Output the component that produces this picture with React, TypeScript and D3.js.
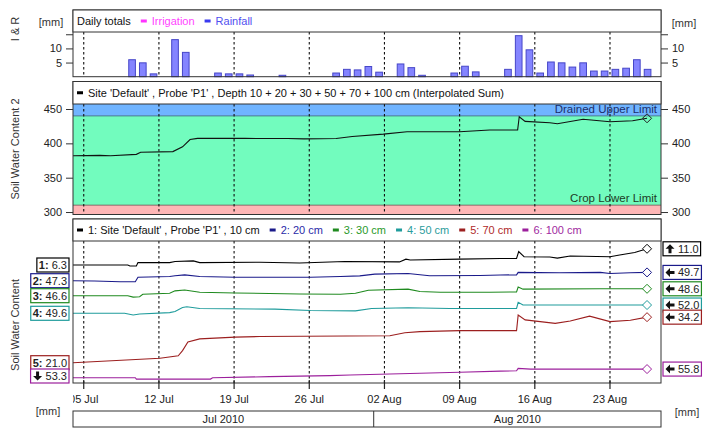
import { useEffect, useRef } from 'react';
import * as d3 from 'd3';

type Pt = [number, number];

// time axis: days counted from 04 Jul 2010 00:00 UTC
const START = Date.UTC(2010, 6, 4);
const END = Date.UTC(2010, 7, 27, 18);
const DAY_MS = 86400000;

const RAIN_DATES = [
  '2010-07-09', '2010-07-10', '2010-07-11', '2010-07-13', '2010-07-14', '2010-07-17', '2010-07-18',
  '2010-07-19', '2010-07-20', '2010-07-23', '2010-07-28', '2010-07-29', '2010-07-30', '2010-07-31',
  '2010-08-01', '2010-08-03', '2010-08-04', '2010-08-05', '2010-08-08', '2010-08-09', '2010-08-10',
  '2010-08-13', '2010-08-14', '2010-08-15', '2010-08-16', '2010-08-17', '2010-08-18', '2010-08-19',
  '2010-08-20', '2010-08-21', '2010-08-22', '2010-08-23', '2010-08-24', '2010-08-25', '2010-08-26',
];
const RAIN_MM = [
  6.0, 4.9, 1.0, 13.1, 8.6, 1.3, 1.0,
  1.0, 0.6, 0.5, 1.3, 2.6, 2.4, 3.6,
  1.6, 4.5, 3.2, 0.5, 1.3, 3.7, 1.7,
  2.6, 14.5, 9.5, 1.3, 5.2, 4.9, 3.4,
  4.9, 2.0, 2.0, 2.6, 3.0, 6.0, 2.6,
];

const IR_DOMAIN = [0, 15.8];
const IR_TICKS = [5, 10, 15];
const IR_TICK_LABELS = ['5', '10', ''];

const SWC2_DOMAIN = [296.4, 457.3];
const SWC2_TICKS = [300, 350, 400, 450];
const DRAINED_UPPER = 440;
const CROP_LOWER = 310;

const SWC_SUM: Pt[] = [
  [0, 382], [2.5, 382.5], [3.5, 382], [5.9, 384], [6.3, 387], [9.3, 388], [10.2, 395], [10.9, 405.5],
  [11.6, 407.3], [16, 407.2], [20, 407], [21.5, 406.5], [24.5, 407], [26, 410], [28.9, 413.5], [31.1, 417],
  [36, 417], [38.8, 419.4], [41.4, 419.5], [41.55, 438.8], [42.1, 432], [44.4, 430], [45.1, 428.6],
  [47.5, 435], [50, 431.5], [52.1, 433], [53.45, 436.5],
];

const SWC_10: Pt[] = [
  [0, 6.3], [5.1, 6.3], [5.3, 6.0], [5.9, 6.0], [6.05, 7.0], [9.0, 7.0], [9.5, 7.3], [11.2, 7.5],
  [11.8, 7.0], [17.4, 7.1], [21.1, 6.9], [25.3, 7.3], [30.4, 7.2], [31.0, 8.0], [31.4, 7.75], [36, 8.0],
  [39.8, 8.2], [41.3, 8.2], [41.5, 10.2], [42.0, 8.7], [44.4, 8.6], [45.1, 8.3], [46.3, 8.9], [50.0, 8.7],
  [50.9, 9.2], [52.3, 9.9], [53.45, 11.0],
];
const SWC_20: Pt[] = [
  [0, 47.3], [2.0, 47.2], [4.4, 47.0], [5.8, 47.0], [6.05, 48.3], [9.0, 48.5], [9.5, 48.75], [10.4, 49.0],
  [11.8, 48.5], [15.1, 48.3], [22.1, 48.3], [24.9, 48.5], [26.7, 48.7], [28.1, 49.2], [31.2, 49.4],
  [33.2, 48.75], [37.9, 48.8], [39.8, 48.95], [41.3, 49.0], [41.45, 49.7], [45.3, 49.6], [49.1, 49.7],
  [50.0, 49.4], [51.9, 49.6], [53.45, 49.7],
];
const SWC_30: Pt[] = [
  [0, 46.6], [5.1, 46.6], [5.6, 46.2], [6.2, 46.3], [6.5, 47.0], [9.0, 47.3], [9.5, 48.0], [10.4, 48.25],
  [11.8, 47.6], [15.1, 47.4], [21.1, 47.1], [24.9, 47.0], [26.3, 47.3], [27.5, 48.2], [31.2, 48.5],
  [32.3, 47.8], [34.2, 47.6], [38.8, 47.6], [41.3, 47.7], [41.45, 49.1], [41.9, 48.5], [49.1, 48.6],
  [53.45, 48.6],
];
const SWC_50: Pt[] = [
  [0, 49.6], [4.8, 49.6], [5.6, 49.1], [6.2, 49.4], [9.0, 49.8], [9.5, 50.1], [10.2, 51.3], [10.6, 51.5],
  [11.8, 51.0], [18.8, 50.8], [22.1, 50.4], [26.3, 50.3], [27.8, 51.0], [31.2, 51.2], [35.1, 51.0],
  [41.3, 51.0], [41.45, 52.8], [41.9, 52.0], [53.45, 52.0],
];
const SWC_70: Pt[] = [
  [0, 21.0], [8.1, 22.3], [9.8, 23.0], [10.2, 24.5], [10.7, 27.0], [11.8, 27.9], [15.1, 28.4], [17.4, 28.6],
  [29.5, 28.8], [30.9, 29.7], [32.3, 30.0], [36, 30.3], [41.3, 30.3], [41.45, 34.8], [42.1, 33.4],
  [44.9, 32.4], [46.3, 33.1], [48.1, 34.5], [50.0, 32.9], [51.9, 33.3], [53.45, 34.2],
];
const SWC_100: Pt[] = [
  [0, 53.3], [5.8, 53.3], [5.9, 52.9], [12.8, 52.9], [13.0, 53.3], [18.3, 53.6], [23.9, 53.9], [25.8, 54.1],
  [32.3, 54.6], [36, 54.9], [39.8, 55.2], [41.3, 55.3], [41.45, 56.0], [42.6, 55.8], [53.45, 55.8],
];

const DEPTH_SERIES = [SWC_10, SWC_20, SWC_30, SWC_50, SWC_70, SWC_100];
const DEPTH_LABELS = ["1: Site 'Default' , Probe 'P1' , 10 cm", '2: 20 cm', '3: 30 cm', '4: 50 cm', '5: 70 cm', '6: 100 cm'];
const LEFT_TAGS = ['1:', '2:', '3:', '4:', '5:', 'down'];
const RIGHT_TAGS = ['up', 'left', 'left', 'left', 'left', 'left'];

const DEPTH_COLORS = ['#000000', '#1a1a8a', '#1f8a1f', '#1f9c9c', '#9c1f1f', '#9c1f9c'];
const DEPTH_TEXT = ['#111111', '#2a2aa8', '#2a9a2a', '#2a9c9c', '#b02a2a', '#a02aa0'];

// layout
const W = 712;
const H = 428;
const L = 73;
const R = 661;
const P1 = { top: 10, legend: 32, bottom: 76.7 };
const P2 = { top: 81.5, legend: 104, bottom: 214.5 };
const P3 = { top: 219, legend: 241, bottom: 383 };
const PX_PER_UNIT = 3.45;
const LANE_START_Y = [265, 280.7, 295.7, 313.3, 362.7, 377.7];
const FONT = '"Liberation Sans", Arial, sans-serif';
const ARROW = 'M-4.5,0L0,-4.5L0,-1.5L4.5,-1.5L4.5,1.5L0,1.5L0,4.5Z';
const ARROW_ROT: Record<string, number> = { left: 0, up: 90, down: -90 };

type G = d3.Selection<SVGGElement, unknown, null, undefined>;

function legend(g: G, items: { label: string; color: string; dash?: string }[], yMid: number) {
  let cx = L + 4;
  items.forEach((it) => {
    if (it.dash) {
      g.append('rect').attr('x', cx).attr('y', yMid - 1.5).attr('width', 6).attr('height', 3).attr('fill', it.dash);
      cx += 11;
    }
    const t = g.append('text').attr('x', cx).attr('y', yMid + 4).attr('fill', it.color).text(it.label);
    cx += (t.node() as SVGTextElement).getComputedTextLength() + 10;
  });
}

// boxed value label: tag is either a bold "n:" or an arrow
function valueBox(g: G, tag: string, value: number, color: string, cy: number, edge: number, side: 'left' | 'right') {
  const boxH = 14;
  const box = g.append('g');
  const rect = box.append('rect').attr('fill', '#fff').attr('stroke', color).attr('stroke-width', 1.2);
  const isArrow = tag in ARROW_ROT;
  const t = box.append('text').attr('y', cy + 4).attr('fill', '#222');
  if (!isArrow) t.append('tspan').attr('font-weight', 'bold').text(tag);
  t.append('tspan').text(isArrow ? value.toFixed(1) : ` ${value.toFixed(1)}`);
  const tw = (t.node() as SVGTextElement).getComputedTextLength();
  const aw = isArrow ? 13 : 0;
  const w = tw + aw + 4;
  const x0 = side === 'left' ? edge - w : edge;
  rect.attr('x', x0).attr('y', cy - boxH / 2).attr('width', w).attr('height', boxH);
  t.attr('x', x0 + 2 + aw);
  if (isArrow) {
    box.append('path').attr('d', ARROW).attr('fill', '#111')
      .attr('transform', `translate(${x0 + 7},${cy}) rotate(${ARROW_ROT[tag]})`);
  }
}

function draw(svg: SVGSVGElement) {
  const root = d3.select(svg);
  root.selectAll('*').remove();
  const g = root.append('g').attr('font-family', FONT).attr('font-size', 11) as unknown as G;

  const x = d3.scaleUtc().domain([new Date(START), new Date(END)]).range([L, R]);
  const at = (t: number) => x(new Date(START + t * DAY_MS));
  const weeks = d3.utcMonday.range(new Date(START), new Date(END));

  // panel backgrounds
  for (const p of [P1, P2, P3]) {
    g.append('rect').attr('x', L).attr('y', p.top).attr('width', R - L).attr('height', p.bottom - p.top).attr('fill', '#fff');
  }

  // ---- panel 1: daily totals
  const yIR = d3.scaleLinear().domain(IR_DOMAIN).range([P1.bottom, P1.legend]);

  // ---- panel 2: bands
  const y2 = d3.scaleLinear().domain(SWC2_DOMAIN).range([P2.bottom, P2.legend]);
  g.append('rect').attr('x', L).attr('width', R - L).attr('y', y2(SWC2_DOMAIN[1])).attr('height', y2(DRAINED_UPPER) - y2(SWC2_DOMAIN[1])).attr('fill', '#70b4ff');
  g.append('rect').attr('x', L).attr('width', R - L).attr('y', y2(DRAINED_UPPER)).attr('height', y2(CROP_LOWER) - y2(DRAINED_UPPER)).attr('fill', '#72fcbe');
  g.append('rect').attr('x', L).attr('width', R - L).attr('y', y2(CROP_LOWER)).attr('height', y2(SWC2_DOMAIN[0]) - y2(CROP_LOWER)).attr('fill', '#ffb6b6');
  g.append('line').attr('x1', L).attr('x2', R).attr('y1', y2(DRAINED_UPPER)).attr('y2', y2(DRAINED_UPPER)).attr('stroke', '#3a5a80').attr('stroke-width', 0.8);
  g.append('line').attr('x1', L).attr('x2', R).attr('y1', y2(CROP_LOWER)).attr('y2', y2(CROP_LOWER)).attr('stroke', '#705050').attr('stroke-width', 0.8);
  g.append('text').attr('x', R - 4).attr('y', y2(DRAINED_UPPER) - 3).attr('text-anchor', 'end').attr('fill', '#1c2e6a').attr('font-size', 11.5).text('Drained Upper Limit');
  g.append('text').attr('x', R - 4).attr('y', y2(CROP_LOWER) - 3).attr('text-anchor', 'end').attr('fill', '#1d3b25').attr('font-size', 11.5).text('Crop Lower Limit');

  // weekly dashed grid
  for (const p of [P1, P2, P3]) {
    g.append('g').selectAll('line').data(weeks).join('line')
      .attr('x1', (d) => x(d)).attr('x2', (d) => x(d))
      .attr('y1', p.legend).attr('y2', p.bottom)
      .attr('stroke', '#111').attr('stroke-width', 1.1).attr('stroke-dasharray', '2.5,2.5');
  }

  // rainfall bars
  const dayStart = (d: string) => +new Date(d);
  g.append('g').selectAll('rect').data(RAIN_DATES).join('rect')
    .attr('x', (d) => x(new Date(dayStart(d) + 0.19 * DAY_MS)))
    .attr('width', (d) => x(new Date(dayStart(d) + 0.81 * DAY_MS)) - x(new Date(dayStart(d) + 0.19 * DAY_MS)))
    .attr('y', (_, i) => yIR(RAIN_MM[i]))
    .attr('height', (_, i) => yIR(0) - yIR(RAIN_MM[i]))
    .attr('fill', '#8484ff').attr('stroke', '#4646c8').attr('stroke-width', 1);

  // sum line
  const diamond = d3.symbol().type(d3.symbolDiamond2).size(52);
  const line2 = d3.line<Pt>().x((d) => at(d[0])).y((d) => y2(d[1]));
  g.append('path').datum(SWC_SUM).attr('d', line2).attr('fill', 'none').attr('stroke', '#111').attr('stroke-width', 1.1);
  const lastSum = SWC_SUM[SWC_SUM.length - 1];
  g.append('path').attr('d', diamond()).attr('transform', `translate(${at(lastSum[0])},${y2(lastSum[1])})`).attr('fill', 'none').attr('stroke', '#222');

  // ---- panel 3: depth lines, each on its own lane
  const laneScales = DEPTH_SERIES.map((s, i) =>
    d3.scaleLinear().domain([s[0][1], s[0][1] + 1]).range([LANE_START_Y[i], LANE_START_Y[i] - PX_PER_UNIT]));
  DEPTH_SERIES.forEach((s, i) => {
    const ys = laneScales[i];
    const ln = d3.line<Pt>().x((d) => at(d[0])).y((d) => ys(d[1]));
    g.append('path').datum(s).attr('d', ln).attr('fill', 'none').attr('stroke', DEPTH_COLORS[i]).attr('stroke-width', 1.1);
    const last = s[s.length - 1];
    g.append('path').attr('d', diamond()).attr('transform', `translate(${at(last[0])},${ys(last[1])})`)
      .attr('fill', '#fff').attr('stroke', DEPTH_COLORS[i]);
  });

  // panel borders and legend rows
  for (const p of [P1, P2, P3]) {
    g.append('rect').attr('x', L).attr('y', p.top).attr('width', R - L).attr('height', p.bottom - p.top).attr('fill', 'none').attr('stroke', '#333');
    g.append('rect').attr('x', L).attr('y', p.top).attr('width', R - L).attr('height', p.legend - p.top).attr('fill', '#fff').attr('stroke', '#333');
  }

  legend(g, [
    { label: 'Daily totals', color: '#111' },
    { label: 'Irrigation', color: '#ff44ff', dash: '#ff33ff' },
    { label: 'Rainfall', color: '#5050f0', dash: '#3a3af0' },
  ], (P1.top + P1.legend) / 2);
  legend(g, [
    { label: "Site 'Default' , Probe 'P1' , Depth 10 + 20 + 30 + 50 + 70 + 100 cm (Interpolated Sum)", color: '#111', dash: '#000' },
  ], (P2.top + P2.legend) / 2);
  legend(g, DEPTH_LABELS.map((label, i) => ({ label, color: DEPTH_TEXT[i], dash: DEPTH_COLORS[i] })), (P3.top + P3.legend) / 2);

  // y axes
  const styleAxis = (a: d3.Selection<SVGGElement, unknown, null, undefined>) => {
    a.select('.domain').remove();
    a.selectAll('line').attr('stroke', '#333');
    a.selectAll('text').attr('font-size', 11).attr('font-family', FONT).attr('fill', '#222');
  };
  const fmtIR = (v: d3.NumberValue) => IR_TICK_LABELS[IR_TICKS.indexOf(Number(v))] ?? '';
  g.append('g').attr('transform', `translate(${L},0)`).call(d3.axisLeft(yIR).tickValues(IR_TICKS).tickSize(7).tickPadding(4).tickFormat(fmtIR)).call(styleAxis);
  g.append('g').attr('transform', `translate(${R},0)`).call(d3.axisRight(yIR).tickValues(IR_TICKS).tickSize(7).tickPadding(4).tickFormat(fmtIR)).call(styleAxis);
  g.append('g').attr('transform', `translate(${L},0)`).call(d3.axisLeft(y2).tickValues(SWC2_TICKS).tickSize(7).tickPadding(4)).call(styleAxis);
  g.append('g').attr('transform', `translate(${R},0)`).call(d3.axisRight(y2).tickValues(SWC2_TICKS).tickSize(7).tickPadding(4)).call(styleAxis);

  // lane value boxes: first value on the left, last value on the right
  DEPTH_SERIES.forEach((s, i) => {
    const first = s[0];
    const cy = Math.min(Math.max(laneScales[i](first[1]), P3.legend + 7), P3.bottom - 7);
    valueBox(g, LEFT_TAGS[i], first[1], DEPTH_COLORS[i], cy, L - 4, 'left');
  });
  DEPTH_SERIES.forEach((s, i) => {
    const last = s[s.length - 1];
    valueBox(g, RIGHT_TAGS[i], last[1], DEPTH_COLORS[i], laneScales[i](last[1]), R + 2, 'right');
  });

  // x axis
  g.append('g').selectAll('line').data(weeks).join('line')
    .attr('x1', (d) => x(d)).attr('x2', (d) => x(d)).attr('y1', P3.bottom - 3).attr('y2', P3.bottom + 6)
    .attr('stroke', '#222').attr('stroke-width', 1.2);
  root.append('defs').append('clipPath').attr('id', 'xclip')
    .append('rect').attr('x', L).attr('y', 0).attr('width', R - L).attr('height', H);
  g.append('g').attr('clip-path', 'url(#xclip)').selectAll('text').data(weeks).join('text')
    .attr('x', (d) => x(d)).attr('y', 403).attr('text-anchor', 'middle').attr('fill', '#222')
    .text((d) => d3.utcFormat('%d %b')(d));

  const months = d3.utcMonth.range(d3.utcMonth.floor(new Date(START)), new Date(END));
  g.append('rect').attr('x', L).attr('y', 411).attr('width', R - L).attr('height', 16).attr('fill', '#fff').attr('stroke', '#333');
  months.forEach((m) => {
    const a = Math.max(x(m), L);
    const b = Math.min(x(d3.utcMonth.offset(m, 1)), R);
    if (x(m) > L) g.append('line').attr('x1', a).attr('x2', a).attr('y1', 411).attr('y2', 427).attr('stroke', '#333');
    g.append('text').attr('x', (a + b) / 2).attr('y', 423).attr('text-anchor', 'middle').attr('fill', '#222').text(d3.utcFormat('%b %Y')(m));
  });

  // axis titles and units
  const vtitle = (label: string, cx: number, cy: number) =>
    g.append('text').attr('transform', `translate(${cx},${cy}) rotate(-90)`).attr('text-anchor', 'middle').attr('fill', '#333').text(label);
  vtitle('I & R', 19, 29);
  vtitle('Soil Water Content 2', 19, 149);
  vtitle('Soil Water Content', 19, 325);
  g.append('text').attr('x', 51).attr('y', 26).attr('text-anchor', 'middle').attr('fill', '#333').text('[mm]');
  g.append('text').attr('x', 684).attr('y', 27).attr('text-anchor', 'middle').attr('fill', '#333').text('[mm]');
  g.append('text').attr('x', 48).attr('y', 415).attr('text-anchor', 'middle').attr('fill', '#333').text('[mm]');
  g.append('text').attr('x', 687).attr('y', 416).attr('text-anchor', 'middle').attr('fill', '#333').text('[mm]');
}

export default function App() {
  const svgRef = useRef<SVGSVGElement>(null);

  useEffect(() => {
    document.body.style.margin = '0';
    if (svgRef.current) draw(svgRef.current);
  }, []);

  return <svg ref={svgRef} width={W} height={H} style={{ display: 'block', background: '#fff' }} />;
}
